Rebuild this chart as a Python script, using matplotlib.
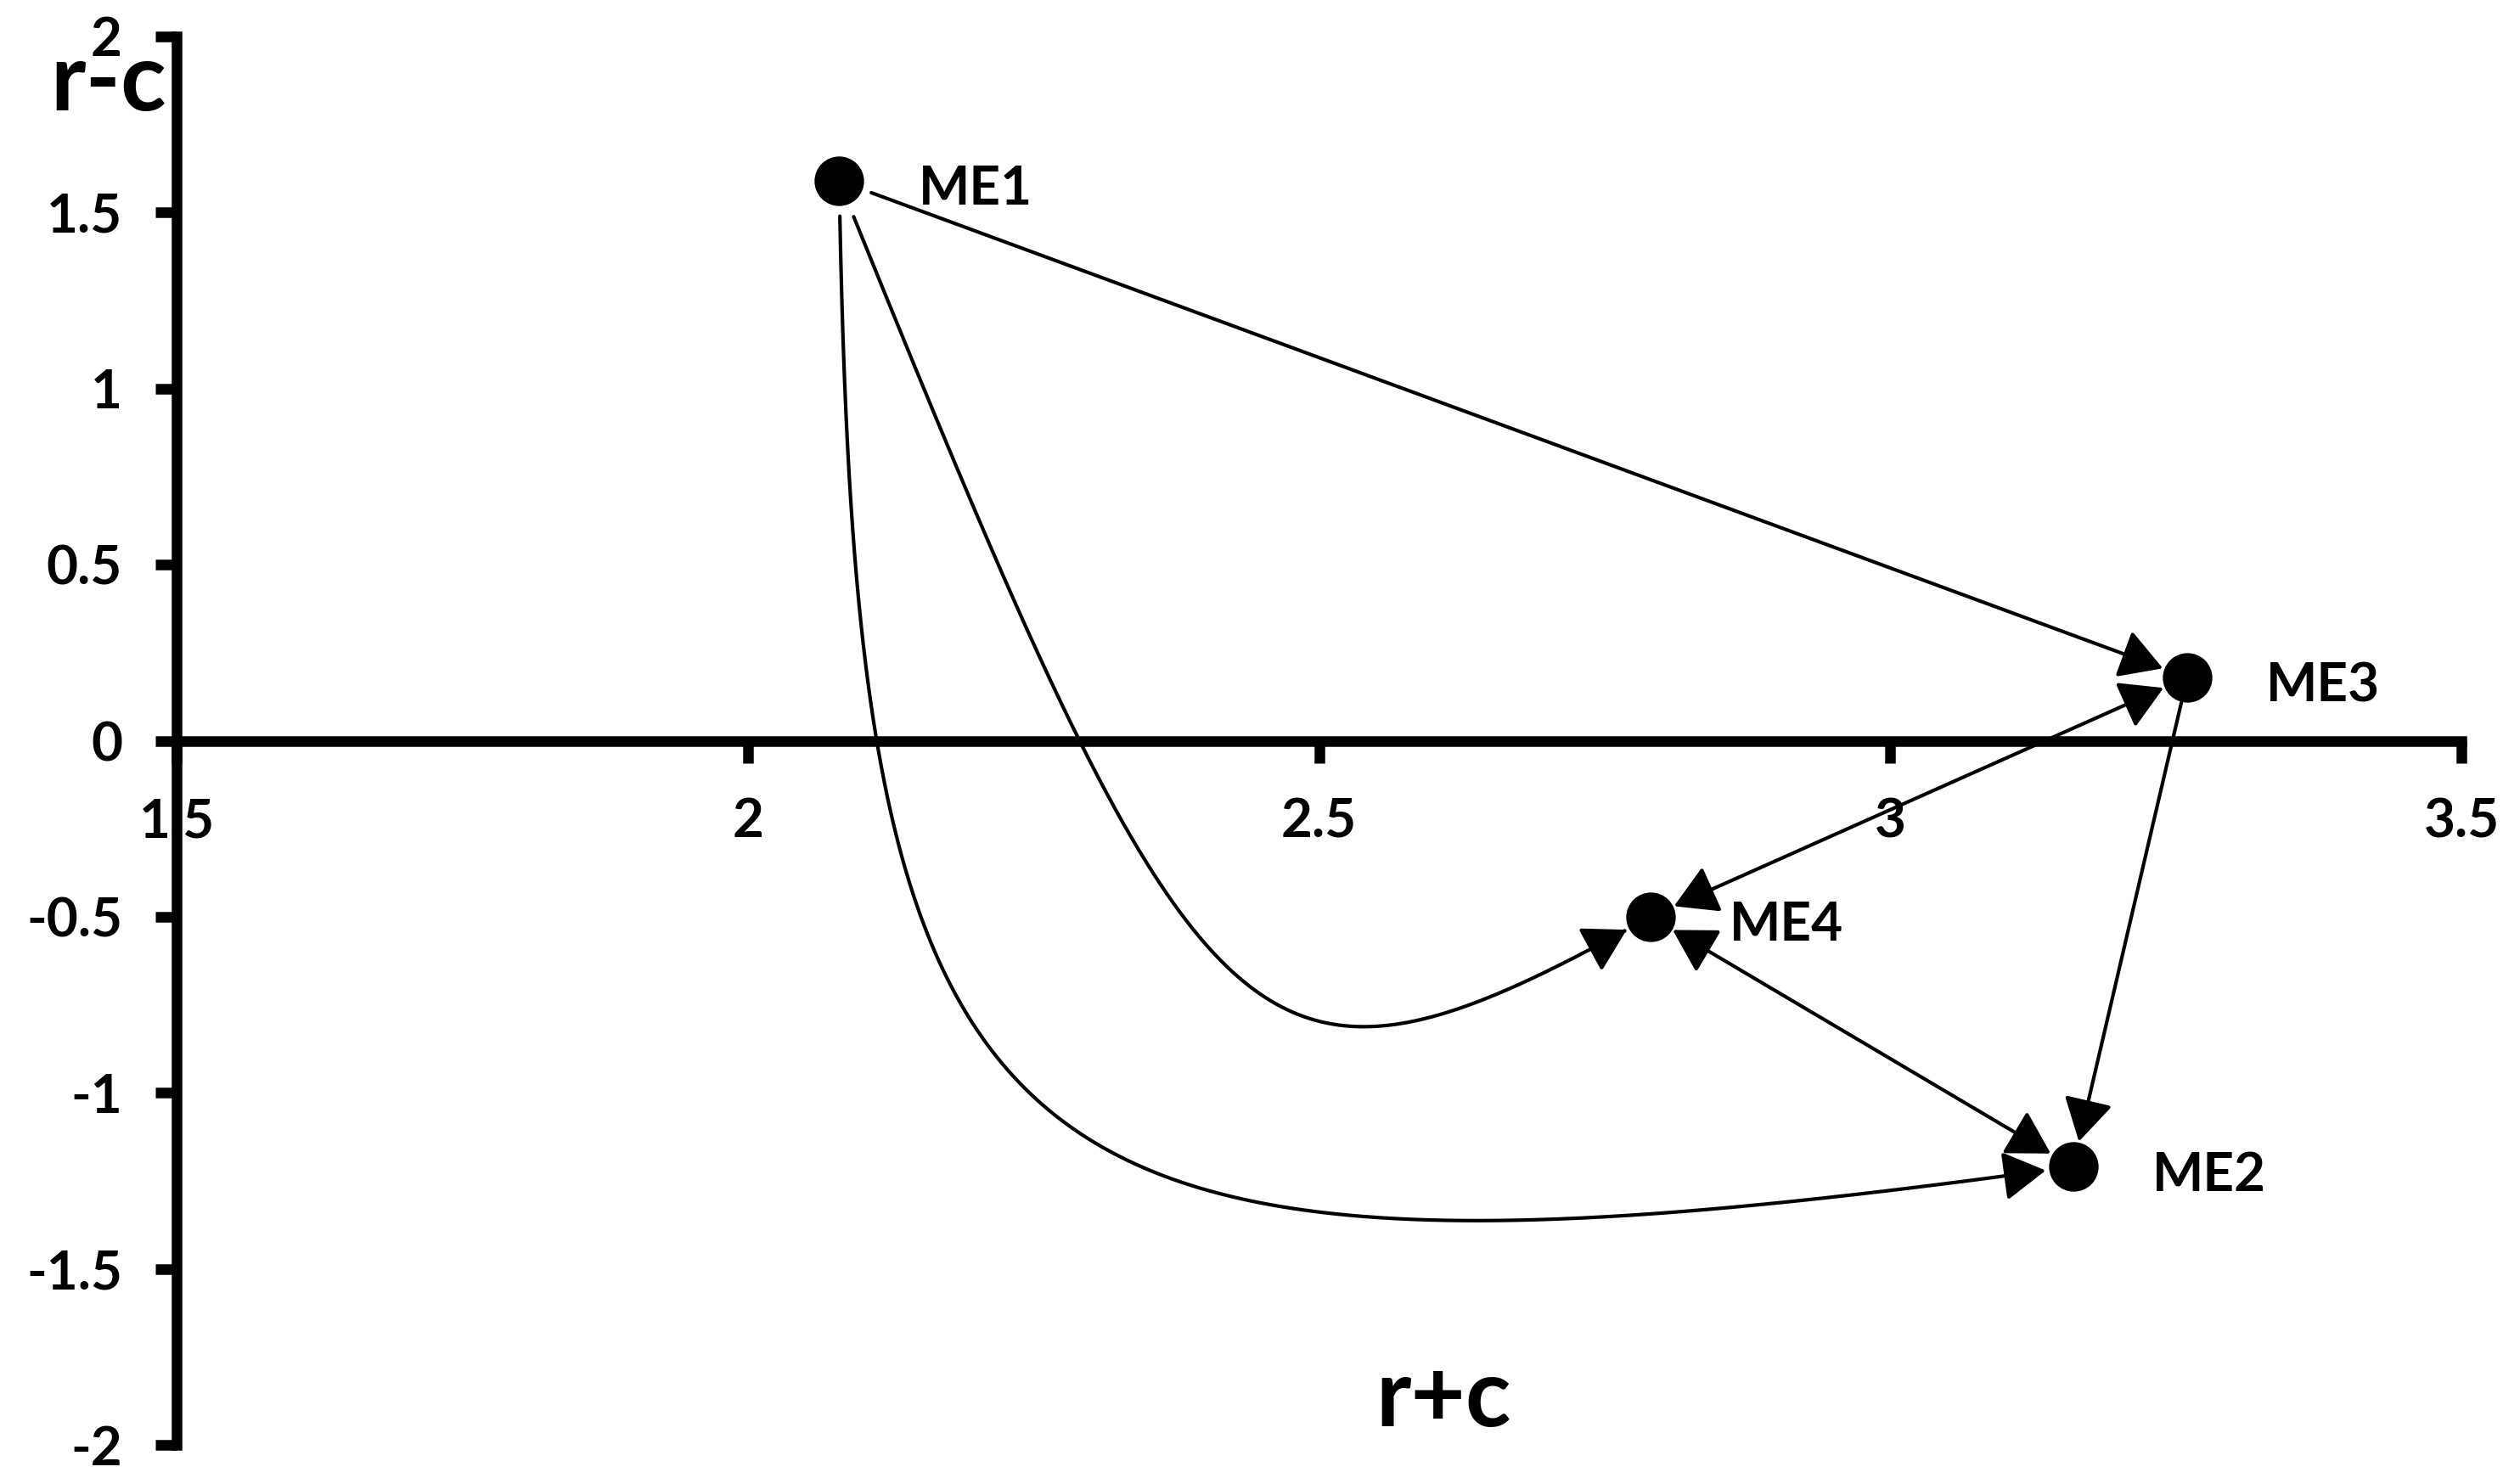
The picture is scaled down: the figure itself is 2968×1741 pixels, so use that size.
import numpy as np
import matplotlib
matplotlib.use("Agg")
import matplotlib.pyplot as plt
from matplotlib.patches import FancyArrowPatch
from matplotlib.path import Path

plt.rcParams['font.family'] = ['Lato', 'DejaVu Sans']
plt.rcParams['font.weight'] = 'bold'

# ---- data ----
labels = ["ME1", "ME2", "ME3", "ME4"]
r_plus_c = [2.08, 3.16, 3.26, 2.79]
r_minus_c = [1.59, -1.21, 0.18, -0.50]
x_ticks = [1.5, 2, 2.5, 3, 3.5]
x_tick_labels = ["1.5", "2", "2.5", "3", "3.5"]
y_ticks = [-2, -1.5, -1, -0.5, 0, 0.5, 1, 1.5, 2]
y_tick_labels = ["-2", "-1.5", "-1", "-0.5", "0", "0.5", "1", "1.5", "2"]

# relations (from, to, double-headed)
straight_links = [("ME1", "ME3", False), ("ME3", "ME2", False),
                  ("ME4", "ME3", True), ("ME4", "ME2", True)]
curved_links = [("ME1", "ME4"), ("ME1", "ME2")]
# cubic bezier control points (shape only) for the curved links
curve_ctrl = {("ME1", "ME4"): [(2.40, -0.98), (2.44, -1.13)],
              ("ME1", "ME2"): [(2.095, -1.30), (2.20, -1.64)]}

W, H, DPI = 2968, 1741, 100
fig = plt.figure(figsize=(W / DPI, H / DPI), dpi=DPI)
ax = fig.add_axes([208 / W, 1 - 1702 / H, (2899 - 208) / W, (1702 - 43) / H])
ax.set_xlim(1.5, 3.5)
ax.set_ylim(-2, 2)

for s in ['top', 'right']:
    ax.spines[s].set_visible(False)
ax.spines['bottom'].set_position(('data', 0))
for s in ['left', 'bottom']:
    ax.spines[s].set_linewidth(9)
    ax.spines[s].set_capstyle('projecting')

ax.set_xticks(x_ticks)
ax.set_xticklabels(x_tick_labels)
ax.set_yticks(y_ticks)
ax.set_yticklabels(y_tick_labels)
ax.tick_params(axis='x', direction='out', length=19, width=9, pad=29,
               labelsize=46)
ax.tick_params(axis='y', direction='out', length=18, width=9, pad=28,
               labelsize=46)
for t in ax.get_xticklabels() + ax.get_yticklabels():
    t.set_fontweight('bold')

pos = {n: (x, y) for n, x, y in zip(labels, r_plus_c, r_minus_c)}

# markers
ax.plot(r_plus_c, r_minus_c, 'o', color='black', markersize=41, zorder=5,
        clip_on=False)
for n, x, y in zip(labels, r_plus_c, r_minus_c):
    ax.annotate(n, (x, y), xytext=(67, -7), textcoords='offset points',
                ha='left', va='center', fontsize=46, fontweight='bold')

head = "head_length=0.62,head_width=0.36"
LW = 3
for a, b, both in straight_links:
    style = ("<|-|>," if both else "-|>,") + head
    sa = 22 if both else (29 if a == "ME1" else 22)
    ax.add_patch(FancyArrowPatch(pos[a], pos[b], arrowstyle=style,
                                 mutation_scale=50, lw=LW, color='black',
                                 shrinkA=sa, shrinkB=22, zorder=4))

# curved links: bezier in data coords, trimmed near the markers in pixels
fig.canvas.draw()
tr = ax.transData
for a, b in curved_links:
    p0 = np.array(pos[a]); p3 = np.array(pos[b])
    p1, p2 = [np.array(c) for c in curve_ctrl[(a, b)]]
    t = np.linspace(0, 1, 600)[:, None]
    pts = ((1 - t) ** 3 * p0 + 3 * (1 - t) ** 2 * t * p1
           + 3 * (1 - t) * t ** 2 * p2 + t ** 3 * p3)
    dp = tr.transform(pts)
    c0 = tr.transform(p0); c3 = tr.transform(p3)
    keep = (np.hypot(*(dp - c0).T) > 40) & (np.hypot(*(dp - c3).T) > 30)
    dp = dp[keep]
    path = Path(dp)
    ax.add_patch(FancyArrowPatch(path=path, arrowstyle="-|>," + head,
                                 mutation_scale=50, lw=LW, color='black',
                                 transform=None, zorder=4))

fig.text(1700 / W, 1 - 1648 / H, 'r+c', ha='center', va='center',
         fontsize=80, fontweight='bold')
fig.text(128 / W, 1 - 130 / H, 'r-c', ha='center', va='baseline',
         fontsize=80, fontweight='bold')

fig.savefig('out.png', dpi=DPI)
